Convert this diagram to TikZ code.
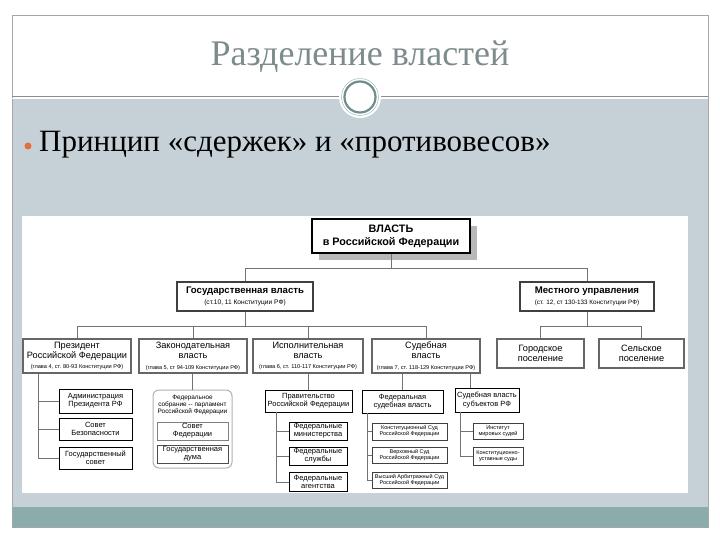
\documentclass[tikz,border=0pt]{standalone}
\usepackage{fontspec}
\setmainfont{Liberation Serif}
\newfontfamily\schemefont{Liberation Sans}
\usetikzlibrary{positioning,shadows}

\definecolor{slidegrey}{HTML}{C6D1D7}
\definecolor{bandteal}{HTML}{8AADAB}
\definecolor{titlegrey}{HTML}{7D8B8C}
\definecolor{ringteal}{HTML}{6F8E8D}
\definecolor{dotorange}{HTML}{E2703F}

\newcommand{\fs}[1]{\fontsize{#1}{\dimexpr #1pt*11/10\relax}\selectfont}

\begin{document}
\begin{tikzpicture}[x=1pt,y=-1pt,
   every node/.style={align=center, inner sep=0pt},
   topbox/.style={draw=black, line width=1.1pt, fill=white, font=\schemefont\fs{10.8}\bfseries,
      drop shadow={shadow xshift=7pt, shadow yshift=-7pt, opacity=1, fill=black!28}},
   levelbox/.style={draw=black!75, line width=1.5pt, fill=white, font=\schemefont\fs{9.6}},
   branchbox/.style={draw=black!60, line width=1.6pt, fill=white, font=\schemefont\fs{9.2}},
   smallbox/.style={draw=black, line width=0.8pt, fill=white, font=\schemefont\fs{7.5}},
   courtbox/.style={draw=black!75, line width=0.9pt, fill=white, font=\schemefont\fs{5.5}},
   wire/.style={draw=black!55, line width=0.5pt}]
   \useasboundingbox (0,0) rectangle (720,540);
   % slide background
   \fill[white] (0,0) rectangle (720,540);
   \fill[slidegrey] (12,98) rectangle (708,507);
   \fill[bandteal] (12,507) rectangle (708,527);
   \draw[black!35, line width=0.6pt] (12,15) rectangle (708,527);
   \draw[black!45, line width=0.8pt] (12,96) -- (708,96);
   \draw[white, line width=0.8pt] (12,98.5) -- (708,98.5);
   \fill[white] (360,97) circle (21);
   \draw[ringteal, line width=2.2pt] (360,97) circle (15.5);
   \draw[ringteal!60, line width=0.5pt] (360,97) circle (18.5);
   \node (title) at (360,57) [font=\fs{36}, text=titlegrey] {Разделение властей};
   \fill[dotorange] (28,146) circle (3.5);
   \node (point) at (39,145) [anchor=west, font=\fs{31}] {Принцип «сдержек» и «противовесов»};
   % scheme area
   \fill[white] (22,216) rectangle (688,493);

   \node (vlast) at (391,236) [topbox, minimum width=158pt, minimum height=34pt] {ВЛАСТЬ\\[1pt]в Российской Федерации};
   \node (gos) at (245,296.5) [levelbox, minimum width=136pt, minimum height=29pt]
      {\textbf{Государственная власть}\\[1pt]{\fs{6.6}(ст.10, 11 Конституции РФ)}};
   \node (mest) at (587,296.5) [levelbox, minimum width=134pt, minimum height=29pt]
      {\textbf{Местного управления}\\[1pt]{\fs{6.3}(ст. 12, ст 130-133 Конституции РФ)}};

   \node (prez) at (77,356) [branchbox, minimum width=108pt, minimum height=34pt]
      {Президент\\Российской Федерации\\[0.5pt]{\fs{5.6}(глава 4, ст. 80-93 Конституции РФ)}};
   \node (zak) at (193,356) [branchbox, minimum width=108pt, minimum height=34pt]
      {Законодательная\\власть\\[0.5pt]{\fs{5.6}(глава 5, ст 94-109 Конституции РФ)}};
   \node (isp) at (308,356) [branchbox, minimum width=110pt, minimum height=34pt]
      {Исполнительная\\власть\\[0.5pt]{\fs{5.6}(глава 6, ст. 110-117 Конституции РФ)}};
   \node (sud) at (426,356) [branchbox, minimum width=108pt, minimum height=34pt]
      {Судебная\\власть\\[0.5pt]{\fs{5.6}(глава 7, ст. 118-129 Конституции РФ)}};
   \node (gor) at (540.5,353.5) [branchbox, minimum width=87pt, minimum height=29pt] {Городское\\поселение};
   \node (sel) at (641.5,353.5) [branchbox, minimum width=85pt, minimum height=29pt] {Сельское\\поселение};

   % president
   \node (adm) at (95.5,401) [smallbox, minimum width=73pt, minimum height=24pt] {Администрация\\Президента РФ};
   \node (sovbez) at (95.5,429) [smallbox, minimum width=73pt, minimum height=22pt] {Совет\\Безопасности};
   \node (gossov) at (95.5,458) [smallbox, minimum width=73pt, minimum height=22pt] {Государственный\\совет};
   % parliament
   \node (fedsob) at (192.5,429) [draw=black!30, line width=1pt, fill=white, rounded corners=6pt,
      minimum width=79pt, minimum height=78pt] {};
   \node (fstext) at (192.5,405) [font=\schemefont\fs{6.4}] {Федеральное\\собрание -- парламент\\Российской Федерации};
   \node (sovfed) at (192.5,431) [smallbox, draw=black!50, minimum width=71pt, minimum height=18pt] {Совет\\Федерации};
   \node (gosduma) at (192.5,454) [smallbox, draw=black!70, minimum width=71pt, minimum height=18pt] {Государственная\\дума};
   % government
   \node (prav) at (308.5,401) [smallbox, minimum width=87pt, minimum height=22pt] {Правительство\\Российской Федерации};
   \node (minist) at (318,431) [smallbox, minimum width=58pt, minimum height=18pt] {Федеральные\\министерства};
   \node (sluzhby) at (318,456) [smallbox, minimum width=58pt, minimum height=18pt] {Федеральные\\службы};
   \node (agent) at (318,482) [smallbox, minimum width=58pt, minimum height=19pt] {Федеральные\\агентства};
   % courts
   \node (fedsud) at (402.5,401.5) [smallbox, minimum width=81pt, minimum height=23pt] {Федеральная\\судебная власть};
   \node (sudsub) at (487,400) [smallbox, minimum width=64pt, minimum height=24pt] {Судебная власть\\субъектов РФ};
   \node (konst) at (409.5,431.5) [courtbox, minimum width=75pt, minimum height=17pt] {Конституционный Суд\\Российской Федерации};
   \node (verh) at (409.5,455) [courtbox, minimum width=75pt, minimum height=16pt] {Верховный Суд\\Российской Федерации};
   \node (arb) at (409.5,480) [courtbox, minimum width=75pt, minimum height=16pt] {Высший Арбитражный Суд\\Российской Федерации};
   \node (mir) at (498,431) [courtbox, minimum width=50pt, minimum height=16pt] {Институт\\мировых судей};
   \node (kus) at (498,456) [courtbox, minimum width=50pt, minimum height=18pt] {Конституционно-\\уставные суды};

   % connectors
   \draw[wire] (vlast.south) -- ++(0,15) -| (gos.north);
   \draw[wire] (vlast.south) -- ++(0,15) -| (mest.north);
   \foreach \b in {prez,zak,isp,sud}
      \draw[wire] (gos.south) -- ++(0,14) -| (\b.north);
   \foreach \b in {gor,sel}
      \draw[wire] (mest.south) -- ++(0,14) -| (\b.north);

   \coordinate (ptrunk) at (prez.south -| 38,0);
   \foreach \b in {adm,sovbez,gossov}
      \draw[wire] (ptrunk) |- (\b.west);
   \draw[wire] (zak.south -| fedsob.north) -- (fedsob.north);
   \draw[wire] (isp.south -| prav.north) -- (prav.north);
   \coordinate (prtrunk) at (prav.south -| 276,0);
   \foreach \b in {minist,sluzhby,agent}
      \draw[wire] (prtrunk) |- (\b.west);
   \draw[wire] (sud.south -| fedsud.north) -- (fedsud.north);
   \coordinate (subtop) at (sud.south -| 470,0);
   \draw[wire] (subtop) -- (subtop |- sudsub.north);
   \coordinate (fstrunk) at (fedsud.south -| 367,0);
   \foreach \b in {konst,verh,arb}
      \draw[wire] (fstrunk) |- (\b.west);
   \coordinate (sstrunk) at (sudsub.south -| 460,0);
   \foreach \b in {mir,kus}
      \draw[wire] (sstrunk) |- (\b.west);
\end{tikzpicture}
\end{document}
